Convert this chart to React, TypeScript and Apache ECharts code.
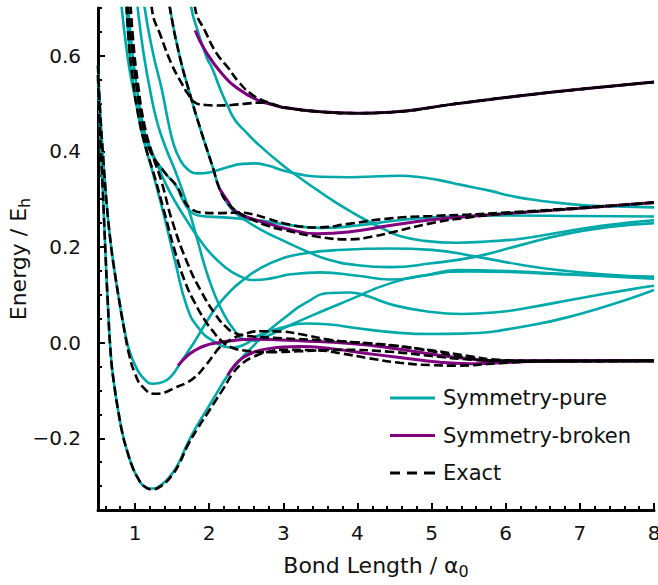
import React, { useEffect, useRef } from "react";
import * as echarts from "echarts";

type P = [number, number][];

// ---- axis ticks ----
const xTicks = [1, 2, 3, 4, 5, 6, 7, 8];
const yTicks = [-0.2, 0.0, 0.2, 0.4, 0.6];
const xMinorStep = 0.2;

// ---- legend names ----
const PURE = "Symmetry-pure";
const BROKEN = "Symmetry-broken";
const EXACT = "Exact";

// ---- exact (dashed) curves ----
const exact1: P = [[0.5,0.56],[0.51,0.51],[0.54,0.4],[0.57,0.3],[0.6,0.19],[0.63,0.09],[0.675,-0.03],[0.72,-0.09],[0.77,-0.14],[0.83,-0.19],[0.9,-0.23],[0.97,-0.262],[1.04,-0.284],[1.12,-0.3],[1.23,-0.307],[1.35,-0.3],[1.5,-0.277],[1.6,-0.252],[1.71,-0.215],[1.85,-0.178],[1.98,-0.147],[2.1,-0.118],[2.2,-0.094],[2.32,-0.064],[2.45,-0.043],[2.59,-0.03],[2.8,-0.019],[3.0,-0.015],[3.45,-0.016],[3.8,-0.023],[4.13,-0.032],[4.57,-0.042],[5.0,-0.047],[5.34,-0.048],[5.92,-0.043],[6.5,-0.039],[8,-0.038]];
const exact2: P = [[0.5,0.58],[0.53,0.48],[0.57,0.387],[0.62,0.285],[0.67,0.21],[0.716,0.157],[0.8,0.075],[0.86,0.022],[0.92,-0.025],[1.0,-0.065],[1.1,-0.092],[1.27,-0.107],[1.4,-0.104],[1.54,-0.094],[1.68,-0.085],[1.81,-0.072],[1.95,-0.048],[2.05,-0.028],[2.14,-0.01],[2.3,0.007],[2.45,0.017],[2.7,0.024],[3.0,0.023],[3.22,0.018],[3.63,0.006],[4.0,0.0],[4.44,-0.006],[5.0,-0.016],[5.5,-0.028],[5.9,-0.036],[6.5,-0.039],[8,-0.038]];
const exact3: P = [[0.87,0.76],[0.91,0.64],[0.97,0.55],[1.05,0.47],[1.14,0.41],[1.24,0.36],[1.4,0.27],[1.54,0.19],[1.68,0.125],[1.81,0.082],[1.95,0.045],[2.05,0.024],[2.17,0.003],[2.3,-0.01],[2.5,-0.017],[2.8,-0.02],[3.2,-0.018],[3.8,-0.015],[4.44,-0.019],[5.0,-0.028],[5.5,-0.035],[6.0,-0.038],[8,-0.038]];
const exact4: P = [[0.92,0.76],[0.97,0.64],[1.04,0.54],[1.12,0.46],[1.22,0.4],[1.36,0.335],[1.5,0.255],[1.71,0.165],[1.9,0.105],[2.08,0.06],[2.22,0.034],[2.35,0.02],[2.6,0.013],[3.0,0.009],[3.5,0.005],[4.44,-0.005],[5.0,-0.018],[5.5,-0.032],[6.0,-0.038],[8,-0.038]];
const exact5: P = [[1.2,0.76],[1.23,0.695],[1.35,0.64],[1.5,0.58],[1.62,0.545],[1.71,0.521],[1.81,0.502],[1.95,0.497],[2.1,0.496],[2.3,0.497],[2.5,0.5],[2.7,0.502],[3.0,0.492],[3.5,0.483],[4.0,0.48],[4.44,0.482],[5.34,0.5],[6.23,0.517],[7.13,0.532],[8,0.545]];
const exact6: P = [[1.78,0.76],[1.81,0.7],[1.95,0.65],[2.1,0.605],[2.25,0.576],[2.4,0.545],[2.55,0.522],[2.7,0.508],[2.85,0.5],[3.0,0.493],[3.5,0.483],[4.0,0.48],[4.44,0.482],[5.34,0.5],[6.23,0.517],[7.13,0.532],[8,0.545]];
const exact7: P = [[1.42,0.76],[1.47,0.7],[1.6,0.6],[1.74,0.52],[1.875,0.45],[2.05,0.366],[2.14,0.322],[2.25,0.292],[2.41,0.271],[2.6,0.256],[2.8,0.244],[3.0,0.236],[3.45,0.222],[3.9,0.216],[4.2,0.222],[4.44,0.23],[5.0,0.25],[5.5,0.262],[6.0,0.27],[7.0,0.281],[8,0.293]];
const exact8: P = [[0.88,0.76],[0.93,0.66],[1.0,0.56],[1.1,0.46],[1.2,0.402],[1.4,0.356],[1.56,0.328],[1.65,0.3],[1.74,0.282],[1.9,0.272],[2.1,0.271],[2.41,0.272],[2.6,0.268],[2.78,0.26],[3.0,0.25],[3.22,0.243],[3.45,0.241],[3.9,0.249],[4.44,0.26],[5.0,0.265],[5.5,0.268],[6.0,0.272],[7.0,0.282],[8,0.293]];

// ---- symmetry-pure (teal) curves ----
const pureA: P = [[0.5,0.56],[0.51,0.51],[0.54,0.4],[0.57,0.3],[0.6,0.19],[0.63,0.09],[0.675,-0.03],[0.72,-0.09],[0.77,-0.14],[0.83,-0.19],[0.9,-0.23],[0.97,-0.262],[1.04,-0.284],[1.12,-0.3],[1.23,-0.305],[1.35,-0.298],[1.5,-0.274],[1.6,-0.248],[1.71,-0.21],[1.85,-0.17],[1.98,-0.137],[2.1,-0.106],[2.25,-0.068],[2.35,-0.048],[2.45,-0.03],[2.6,-0.006],[2.75,0.018],[3.0,0.05],[3.3,0.083],[3.63,0.104],[3.9,0.105],[4.1,0.099],[4.5,0.078],[5.0,0.064],[5.4,0.06],[5.9,0.064],[6.3,0.073],[7.0,0.093],[7.67,0.111],[8,0.119]];
const pureB: P = [[1.1,0.76],[1.13,0.7],[1.25,0.6],[1.36,0.53],[1.45,0.46],[1.52,0.415],[1.6,0.385],[1.7,0.364],[1.85,0.354],[2.0,0.356],[2.2,0.365],[2.45,0.374],[2.6,0.375],[2.8,0.37],[3.0,0.36],[3.22,0.352],[3.5,0.347],[3.9,0.346],[4.3,0.348],[4.57,0.349],[4.8,0.347],[5.1,0.34],[5.4,0.33],[5.78,0.318],[6.1,0.306],[6.46,0.297],[6.8,0.291],[7.13,0.287],[7.5,0.285],[8,0.283]];
const pureC: P = [[1.73,0.76],[1.76,0.7],[1.85,0.65],[1.97,0.595],[2.04,0.574],[2.15,0.53],[2.25,0.495],[2.35,0.465],[2.5,0.44],[2.66,0.415],[3.0,0.37],[3.22,0.345],[3.45,0.32],[3.67,0.297],[3.9,0.275],[4.13,0.255],[4.35,0.238],[4.57,0.223],[4.9,0.213],[5.34,0.209],[5.8,0.212],[6.23,0.218],[6.7,0.23],[7.13,0.241],[7.6,0.25],[8,0.256]];
const pureD: P = [[0.5,0.58],[0.53,0.48],[0.57,0.387],[0.62,0.285],[0.67,0.21],[0.716,0.157],[0.8,0.075],[0.86,0.025],[0.92,-0.015],[1.0,-0.047],[1.1,-0.072],[1.24,-0.086],[1.38,-0.082],[1.5,-0.068],[1.6,-0.045],[1.7,-0.022],[1.81,0.004],[1.95,0.04],[2.1,0.075],[2.3,0.11],[2.45,0.13],[2.66,0.153],[3.0,0.177],[3.3,0.187],[3.67,0.193],[4.44,0.197],[5.0,0.194],[5.6,0.18],[6.2,0.163],[6.7,0.152],[7.3,0.143],[8,0.137]];
const pureE: P = [[0.87,0.76],[0.91,0.64],[0.97,0.55],[1.05,0.47],[1.14,0.41],[1.24,0.355],[1.4,0.26],[1.54,0.17],[1.7,0.075],[1.85,0.032],[2.05,0.004],[2.32,-0.01],[2.5,-0.002],[2.68,0.016],[3.0,0.032],[3.3,0.04],[3.63,0.038],[4.0,0.03],[4.53,0.021],[5.0,0.018],[5.42,0.019],[6.32,0.036],[7.0,0.06],[7.67,0.092],[8,0.11]];
const pureF: P = [[1.0,0.76],[1.05,0.68],[1.12,0.6],[1.2,0.53],[1.3,0.46],[1.42,0.405],[1.54,0.36],[1.7,0.29],[1.85,0.21],[1.94,0.16],[2.05,0.11],[2.17,0.068],[2.32,0.03],[2.48,0.006],[2.62,0.004],[2.8,0.015],[3.0,0.03],[3.36,0.055],[3.9,0.09],[4.44,0.124],[5.0,0.143],[5.5,0.149],[6.5,0.145],[8,0.134]];
const pureG: P = [[1.42,0.76],[1.47,0.7],[1.6,0.6],[1.74,0.52],[1.875,0.45],[2.05,0.366],[2.14,0.322],[2.25,0.29],[2.35,0.272],[2.45,0.26],[2.7,0.236],[2.99,0.214],[3.3,0.192],[3.6,0.174],[4.0,0.162],[4.44,0.158],[5.0,0.166],[5.6,0.18],[6.2,0.204],[6.8,0.227],[7.4,0.242],[8,0.25]];
const pureH: P = [[0.79,0.76],[0.82,0.7],[0.88,0.62],[0.95,0.55],[1.05,0.48],[1.15,0.43],[1.28,0.38],[1.42,0.33],[1.56,0.29],[1.7,0.255],[1.85,0.22],[2.0,0.19],[2.2,0.16],[2.4,0.14],[2.62,0.131],[2.85,0.135],[3.1,0.143],[3.5,0.147],[4.0,0.14],[4.44,0.132],[4.9,0.14],[5.34,0.152],[6.0,0.15],[7.0,0.142],[8,0.138]];
const pureM: P = [[0.88,0.76],[0.93,0.66],[1.0,0.56],[1.1,0.46],[1.2,0.402],[1.4,0.356],[1.56,0.326],[1.65,0.296],[1.74,0.276],[1.85,0.266],[2.2,0.262],[2.66,0.256],[3.0,0.248],[3.5,0.24],[4.0,0.245],[4.5,0.255],[5.1,0.263],[6.0,0.266],[7.0,0.265],[8,0.264]];

// ---- symmetry-broken (purple) curves ----
const broken1: P = [[1.58,-0.048],[1.7,-0.028],[1.81,-0.016],[1.95,-0.006],[2.12,0.0],[2.3,0.004],[2.55,0.007],[2.9,0.006],[3.22,0.004],[3.9,-0.002],[4.44,-0.011],[5.0,-0.024],[5.34,-0.031],[5.92,-0.038],[8,-0.038]];
const broken2: P = [[2.25,-0.068],[2.35,-0.046],[2.45,-0.032],[2.6,-0.02],[2.78,-0.013],[3.0,-0.009],[3.22,-0.008],[3.67,-0.013],[4.1,-0.022],[4.57,-0.031],[5.11,-0.041],[5.5,-0.044],[5.78,-0.043],[6.5,-0.039],[8,-0.038]];
const broken3: P = [[2.14,0.322],[2.25,0.296],[2.32,0.28],[2.45,0.266],[2.78,0.25],[3.0,0.24],[3.45,0.228],[3.9,0.232],[4.44,0.245],[5.0,0.257],[5.5,0.264],[6.0,0.27],[7.0,0.281],[8,0.293]];
const broken4: P = [[1.81,0.653],[1.95,0.61],[2.17,0.563],[2.4,0.53],[2.66,0.507],[2.85,0.498],[3.0,0.492],[3.5,0.483],[4.0,0.48],[4.44,0.482],[5.34,0.5],[6.23,0.517],[7.13,0.532],[8,0.545]];

const pureCurves = [pureA, pureB, pureC, pureD, pureE, pureF, pureG, pureH, pureM];
const brokenCurves = [broken1, broken2, broken3, broken4];
const exactCurves = [exact1, exact2, exact3, exact4, exact5, exact6, exact7, exact8];

const TEAL = "#00A9A9";
const PURPLE = "#800080";
const FONT = "DejaVu Sans";

// legend icons drawn as thin bars (45 x 3)
const ICON_SOLID = "path://M0,0h45v3h-45z";
const ICON_DASH = "path://M0,0h10v3h-10z M17,0h10v3h-10z M34,0h11v3h-11z";

function fmtY(v: number) {
  const s = Math.abs(v).toFixed(1);
  return v < -1e-9 ? "\u2212" + s : s;
}

function minorXValues(): number[] {
  const out: number[] = [];
  for (let i = 3; i <= 40; i++) {
    const v = Math.round(i * xMinorStep * 100) / 100;
    if (Math.abs(v - Math.round(v)) > 1e-6) out.push(v);
  }
  return out;
}

export default function App() {
  const ref = useRef<HTMLDivElement>(null);
  useEffect(() => {
    if (!ref.current) return;
    const chart = echarts.init(ref.current, undefined, { renderer: "svg" });
    const mk = (name: string, data: P, color: string, width: number, dashed: boolean, z: number) => ({
      type: "line",
      name,
      data,
      xAxisIndex: 0,
      yAxisIndex: 0,
      symbol: "none",
      smooth: 0.5,
      z,
      lineStyle: { color, width, type: dashed ? [9, 4] : "solid", cap: "butt" },
      itemStyle: { color },
      emphasis: { disabled: true },
      silent: true,
    });
    const series: any[] = [
      ...pureCurves.map((d) => mk(PURE, d, TEAL, 2.6, false, 2)),
      ...brokenCurves.map((d) => mk(BROKEN, d, PURPLE, 3, false, 3)),
      ...exactCurves.map((d) => mk(EXACT, d, "#000", 2.6, true, 4)),
    ];
    chart.setOption({
      animation: false,
      backgroundColor: "#fff",
      grid: { left: 98, right: 4, top: 8, bottom: 75, containLabel: false, outerBoundsMode: "none" },
      legend: {
        data: [
          { name: PURE, icon: ICON_SOLID, itemStyle: { color: TEAL } },
          { name: BROKEN, icon: ICON_SOLID, itemStyle: { color: PURPLE } },
          { name: EXACT, icon: ICON_DASH, itemStyle: { color: "#000" } },
        ],
        orient: "vertical",
        left: 385,
        top: 381,
        itemWidth: 45,
        itemHeight: 3,
        itemGap: 13.5,
        textStyle: { fontFamily: FONT, fontSize: 21, color: "#111", lineHeight: 24, padding: [0, 0, 0, 3] },
      },
      xAxis: [
        {
          type: "value",
          min: 0.5,
          max: 8,
          splitNumber: 7,
          position: "bottom",
          axisLine: { show: true, onZero: false, lineStyle: { color: "#000", width: 3 } },
          axisTick: { show: true, inside: true, length: 7, lineStyle: { color: "#000", width: 2 } },
          minorTick: { show: false },
          splitLine: { show: false },
          axisLabel: {
            showMinLabel: false,
            margin: 13,
            fontFamily: FONT,
            fontSize: 20,
            color: "#111",
            formatter: (v: number) => (xTicks.indexOf(Math.round(v * 1000) / 1000) >= 0 ? String(Math.round(v)) : ""),
          },
          name: "Bond Length / \u03b1{sub|0}",
          nameLocation: "middle",
          nameGap: 41,
          nameMoveOverlap: false,
          nameTextStyle: {
            fontFamily: FONT,
            fontSize: 22,
            color: "#111",
            rich: { sub: { fontFamily: FONT, fontSize: 16, color: "#111", padding: [12, 0, 0, 0] } },
          },
        },
        {
          type: "value",
          min: 0.5,
          max: 8,
          position: "bottom",
          axisLine: { show: false, onZero: false },
          axisTick: {
            show: true,
            inside: true,
            length: 4,
            customValues: minorXValues(),
            lineStyle: { color: "#000", width: 2 },
          },
          splitLine: { show: false },
          axisLabel: { show: false },
        },
      ],
      yAxis: [
        {
          type: "value",
          min: -0.35,
          max: 0.7,
          splitNumber: 5,
          position: "left",
          axisLine: { show: true, onZero: false, lineStyle: { color: "#000", width: 3 } },
          axisTick: { show: true, inside: true, length: 7, lineStyle: { color: "#000", width: 2 } },
          splitLine: { show: false },
          axisLabel: {
            showMinLabel: false,
            showMaxLabel: false,
            margin: 17,
            fontFamily: FONT,
            fontSize: 20,
            color: "#111",
            formatter: (v: number) => {
              const r = Math.round(v * 100) / 100;
              return yTicks.some((t) => Math.abs(t - r) < 1e-6) ? fmtY(r) : "";
            },
          },
          name: "Energy / E{sub|h}",
          nameLocation: "middle",
          nameGap: 66,
          nameRotate: 90,
          nameMoveOverlap: false,
          nameTextStyle: {
            fontFamily: FONT,
            fontSize: 22,
            color: "#111",
            rich: { sub: { fontFamily: FONT, fontSize: 16, color: "#111", padding: [12, 0, 0, 0] } },
          },
        },
        {
          type: "value",
          min: -0.35,
          max: 0.7,
          interval: 0.05,
          position: "left",
          axisLine: { show: false, onZero: false },
          axisTick: { show: true, inside: true, length: 4, lineStyle: { color: "#000", width: 2 } },
          splitLine: { show: false },
          axisLabel: { show: false },
        },
      ],
      series,
    });
    return () => chart.dispose();
  }, []);
  return <div ref={ref} style={{ position: "fixed", left: 0, top: 0, width: 658, height: 585, background: "#fff" }} />;
}
